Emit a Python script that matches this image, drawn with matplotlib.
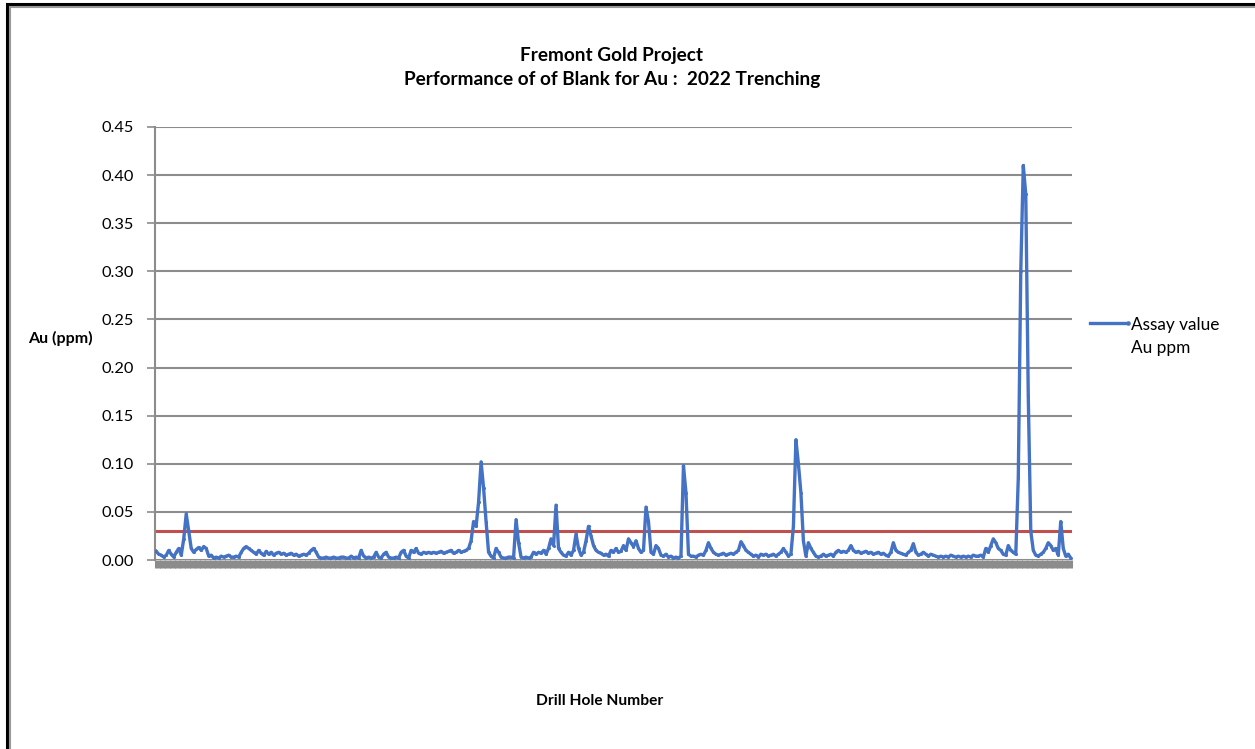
"""Fremont Gold Project - blank performance chart (Au, 2022 trenching)"""
import matplotlib
matplotlib.use("Agg")
import matplotlib.pyplot as plt
from matplotlib.lines import Line2D
from matplotlib.patches import Rectangle

plt.rcParams["font.family"] = ["Lato", "DejaVu Sans"]

# assay values (Au ppm), in sample order
au_ppm = [
    # first stretch
    0.009, 0.006, 0.005, 0.003, 0.005, 0.010, 0.006, 0.003, 0.008, 0.012, 0.005, 0.022,
    0.048, 0.030, 0.012, 0.008, 0.011, 0.013, 0.010, 0.014, 0.012, 0.004, 0.005, 0.002,
    0.003, 0.002, 0.004, 0.003, 0.004, 0.005, 0.003, 0.003, 0.004, 0.003, 0.008, 0.012, 0.014,
    0.012, 0.010, 0.008, 0.006, 0.010, 0.007, 0.005, 0.009, 0.006, 0.008, 0.005, 0.007,
    0.008, 0.006, 0.007, 0.005, 0.006, 0.007, 0.005, 0.006, 0.004, 0.005, 0.006, 0.005,
    0.007, 0.010, 0.012, 0.008, 0.003, 0.002, 0.002, 0.003, 0.002, 0.002, 0.003, 0.002,
    0.002, 0.003, 0.003, 0.002, 0.002, 0.004, 0.002, 0.003, 0.002, 0.010, 0.004, 0.002,
    0.003, 0.002, 0.003, 0.008, 0.003, 0.002, 0.006, 0.008, 0.003, 0.002, 0.002, 0.003,
    0.002, 0.008, 0.010, 0.004, 0.002, 0.010, 0.008, 0.012, 0.007, 0.006, 0.008, 0.007,
    0.008, 0.007, 0.008, 0.007, 0.008, 0.009, 0.007, 0.008, 0.009, 0.010, 0.007, 0.008,
    0.010, 0.008, 0.009, 0.010, 0.012,
    # first 0.10 spike
    0.020, 0.040, 0.035, 0.060, 0.102, 0.075, 0.040, 0.008, 0.004, 0.002, 0.012, 0.008, 0.003,
    0.002, 0.002, 0.003, 0.003, 0.002, 0.042, 0.018, 0.003, 0.002, 0.003, 0.002, 0.003,
    0.008, 0.006, 0.008, 0.007, 0.010, 0.006, 0.012, 0.022, 0.015, 0.057, 0.012, 0.008,
    0.005, 0.004, 0.008, 0.005, 0.010, 0.027, 0.012, 0.005, 0.008, 0.020, 0.035, 0.025,
    0.015, 0.010, 0.008, 0.007, 0.005, 0.006, 0.004, 0.010, 0.008, 0.012, 0.008, 0.009,
    0.015, 0.010, 0.022, 0.018, 0.014, 0.020, 0.012, 0.008, 0.010, 0.055, 0.040, 0.008,
    0.006, 0.015, 0.012, 0.005, 0.004, 0.006, 0.003, 0.004, 0.002, 0.003, 0.002, 0.004,
    0.098, 0.070, 0.006, 0.004,
    0.004, 0.003, 0.005, 0.006, 0.005, 0.010, 0.018, 0.012, 0.008, 0.006, 0.005, 0.006,
    0.007, 0.005, 0.006, 0.007, 0.006, 0.008, 0.010, 0.019, 0.015, 0.010, 0.008, 0.006,
    0.004, 0.005, 0.003, 0.006, 0.005, 0.006, 0.004, 0.005, 0.006, 0.004, 0.006, 0.008,
    0.012, 0.008, 0.004, 0.006, 0.035, 0.125, 0.100, 0.070, 0.020, 0.004,
    0.018, 0.012, 0.008, 0.004, 0.003, 0.004, 0.006, 0.004, 0.005, 0.006, 0.004, 0.008,
    0.010, 0.008, 0.009, 0.008, 0.010, 0.015, 0.010, 0.008, 0.009, 0.007, 0.008, 0.009,
    0.007, 0.008, 0.006, 0.007, 0.008, 0.006, 0.007, 0.005, 0.004, 0.008, 0.018, 0.010,
    0.008, 0.007, 0.006, 0.005, 0.008, 0.010, 0.017, 0.008, 0.005, 0.006, 0.008, 0.006,
    0.004, 0.006, 0.005, 0.004, 0.003, 0.004, 0.003, 0.004, 0.003, 0.005, 0.004, 0.003,
    0.004, 0.003, 0.004, 0.003, 0.004, 0.003, 0.005, 0.004, 0.004, 0.005, 0.003, 0.012,
    0.008, 0.015, 0.022, 0.018, 0.012, 0.010, 0.006, 0.005, 0.015, 0.010, 0.008, 0.006,
    # big spike and tail
    0.085, 0.300, 0.410, 0.380, 0.170, 0.030, 0.010, 0.005, 0.004, 0.006, 0.008,
    0.012, 0.018, 0.015, 0.010, 0.012, 0.005, 0.040, 0.012, 0.004, 0.006, 0.002,
]
blank_limit = 0.03
y_ticks = [0.00, 0.05, 0.10, 0.15, 0.20, 0.25, 0.30, 0.35, 0.40, 0.45]

BLUE = "#4472C4"
RED = "#C0504D"
GRID = "#8C8C8C"

fig = plt.figure(figsize=(12.55, 7.49), dpi=100)
ax = fig.add_axes([155 / 1255, 1 - 560 / 749, (1072 - 155) / 1255, (560 - 127) / 749])

x = list(range(len(au_ppm)))
ax.plot(x, au_ppm, color=BLUE, linewidth=2.4, marker="o", markersize=2.2,
        markeredgewidth=0, zorder=3)
ax.axhline(blank_limit, color=RED, linewidth=2.2, zorder=2)

ax.set_xlim(-0.5, len(au_ppm) - 0.5)
ax.set_ylim(0, 0.45)
ax.set_yticks(y_ticks)
ax.set_yticklabels([f"{t:.2f}" for t in y_ticks], fontsize=11.8)
ax.yaxis.grid(True, color=GRID, linewidth=1.5)
ax.set_axisbelow(True)
ax.tick_params(axis="y", length=6, width=1.2, color=GRID, pad=9)

# one tick per sample, dense enough to read as a band
ax.set_xticks(x)
ax.set_xticklabels([])
ax.tick_params(axis="x", length=6, width=2.2, color=GRID, direction="out")

for side in ["top", "right", "bottom"]:
    ax.spines[side].set_visible(False)
ax.spines["left"].set_color(GRID)
ax.spines["left"].set_linewidth(1.5)

fig.text(612 / 1255, 1 - 56 / 749, "Fremont Gold Project", ha="center", va="center",
         fontsize=13.7, fontweight="bold")
fig.text(612 / 1255, 1 - 80 / 749, "Performance of of Blank for Au :  2022 Trenching",
         ha="center", va="center", fontsize=13.7, fontweight="bold")
fig.text(60 / 1255, 1 - 338 / 749, "Au (ppm)", ha="center", va="center",
         fontsize=11.5, fontweight="bold")
fig.text(600 / 1255, 1 - 701 / 749, "Drill Hole Number", ha="center", va="center",
         fontsize=11.2, fontweight="bold")

# legend drawn by hand so the handle sits on the first text line
fig.add_artist(Line2D([1090 / 1255, 1128 / 1255], [1 - 323 / 749, 1 - 323 / 749],
                      color=BLUE, linewidth=2.4, marker="o", markersize=2.2,
                      markevery=[1], transform=fig.transFigure))
fig.text(1131 / 1255, 1 - 325 / 749, "Assay value", ha="left", va="center", fontsize=12.4)
fig.text(1131 / 1255, 1 - 348 / 749, "Au ppm", ha="left", va="center", fontsize=12.4)

# chart frame
fig.add_artist(Rectangle((7 / 1255, -0.05), 1.1, 1 - 4 / 749 + 0.05, fill=False,
                         edgecolor="black", linewidth=2.2, transform=fig.transFigure))
fig.add_artist(Rectangle((10 / 1255, -0.05), 1.1, 1 - 7 / 749 + 0.05, fill=False,
                         edgecolor="#999999", linewidth=1.5, transform=fig.transFigure))

plt.savefig("out.png", dpi=100)
plt.close()
